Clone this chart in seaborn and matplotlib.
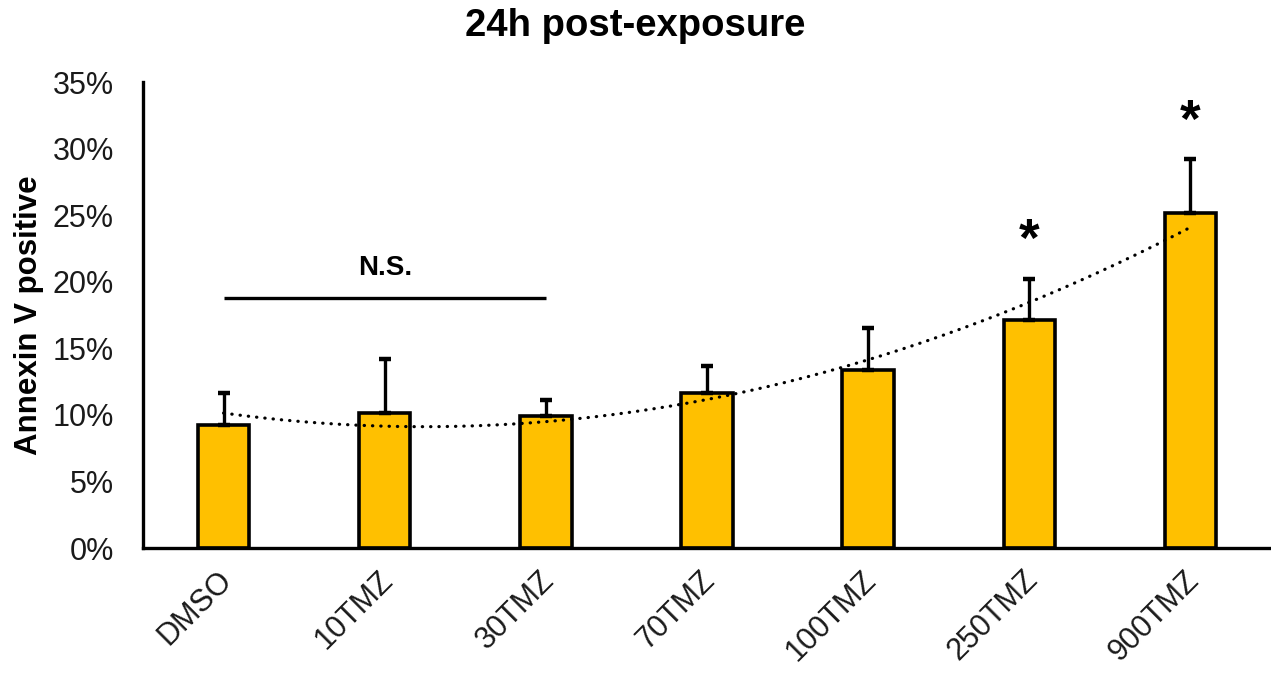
import numpy as np
import pandas as pd
import matplotlib
matplotlib.use("Agg")
import matplotlib.pyplot as plt
from matplotlib.ticker import FuncFormatter
from matplotlib.transforms import ScaledTranslation
import seaborn as sns

# Annexin V positive cells (%) 24h after exposure
categories = ["DMSO", "10TMZ", "30TMZ", "70TMZ", "100TMZ", "250TMZ", "900TMZ"]
means = [9.24, 10.17, 9.92, 11.62, 13.37, 17.13, 25.15]
errors_upper = [2.43, 4.01, 1.18, 2.08, 3.13, 3.07, 4.05]
significant = ["", "", "", "", "", "*", "*"]
y_ticks = [0, 5, 10, 15, 20, 25, 30, 35]

sns.set_theme(style="white")
plt.rcParams["font.family"] = ["Liberation Sans", "DejaVu Sans"]

df = pd.DataFrame({"group": categories, "value": means})

fig = plt.figure(figsize=(12.71, 6.73), dpi=100)
ax = fig.add_axes([143 / 1271, 1 - 548 / 673, 1 - 143 / 1271, (548 - 82) / 673])

sns.barplot(data=df, x="group", y="value", color="#FFC000", saturation=1,
            edgecolor="black", linewidth=2.6, width=0.32, errorbar=None, ax=ax)

xpos = np.arange(len(categories))
ax.errorbar(xpos, means, yerr=[np.zeros(len(means)), errors_upper], fmt="none",
            ecolor="black", elinewidth=2.4, capsize=4.5, capthick=3.2, zorder=1)

# second-order polynomial trendline through the group means
coef = np.polyfit(xpos, means, 2)
xs = np.linspace(xpos[0], xpos[-1], 300)
ax.plot(xs, np.polyval(coef, xs), color="black", lw=2.3,
        linestyle=(0, (0.1, 2.5)), dash_capstyle="round", zorder=4)

# significance marks
ax.plot([0, 2], [18.8, 18.8], color="black", lw=2.4, solid_capstyle="butt")
ax.text(1, 21.0, "N.S.", ha="center", va="center", fontsize=20, fontweight="bold",
        color="black")
for i, s in enumerate(significant):
    if s:
        top = means[i] + errors_upper[i]
        ax.text(i, top + 1.7, s, ha="center", va="baseline", fontsize=38,
                fontweight="bold", color="black")

ax.set_ylim(0, 35)
ax.set_xlim(-0.5, 6.5)
ax.set_yticks(y_ticks)
ax.yaxis.set_major_formatter(FuncFormatter(lambda v, p: f"{v:.0f}%"))
ax.tick_params(axis="y", length=0, pad=21, labelsize=22, labelcolor="#1a1a1a")
ax.tick_params(axis="x", length=0, pad=10, labelsize=22, labelcolor="#1a1a1a")
shift = ScaledTranslation(-7 / 100, -3 / 100, fig.dpi_scale_trans)
for lab in ax.get_xticklabels():
    lab.set_rotation(45)
    lab.set_ha("right")
    lab.set_rotation_mode("anchor")
    lab.set_transform(lab.get_transform() + shift)

for side in ["top", "right"]:
    ax.spines[side].set_visible(False)
for side in ["left", "bottom"]:
    ax.spines[side].set_color("black")
    ax.spines[side].set_linewidth(2.4)

ax.set_xlabel("")
ax.set_ylabel("Annexin V positive", fontsize=22.5, fontweight="bold", color="black")
ax.yaxis.set_label_coords((44 - 143) / 1128, 0.5)

fig.text(0.5, 1 - 26 / 673, "24h post-exposure", ha="center", va="center",
         fontsize=27.5, fontweight="bold", color="black")

fig.savefig("out.png", dpi=100, facecolor="white")
